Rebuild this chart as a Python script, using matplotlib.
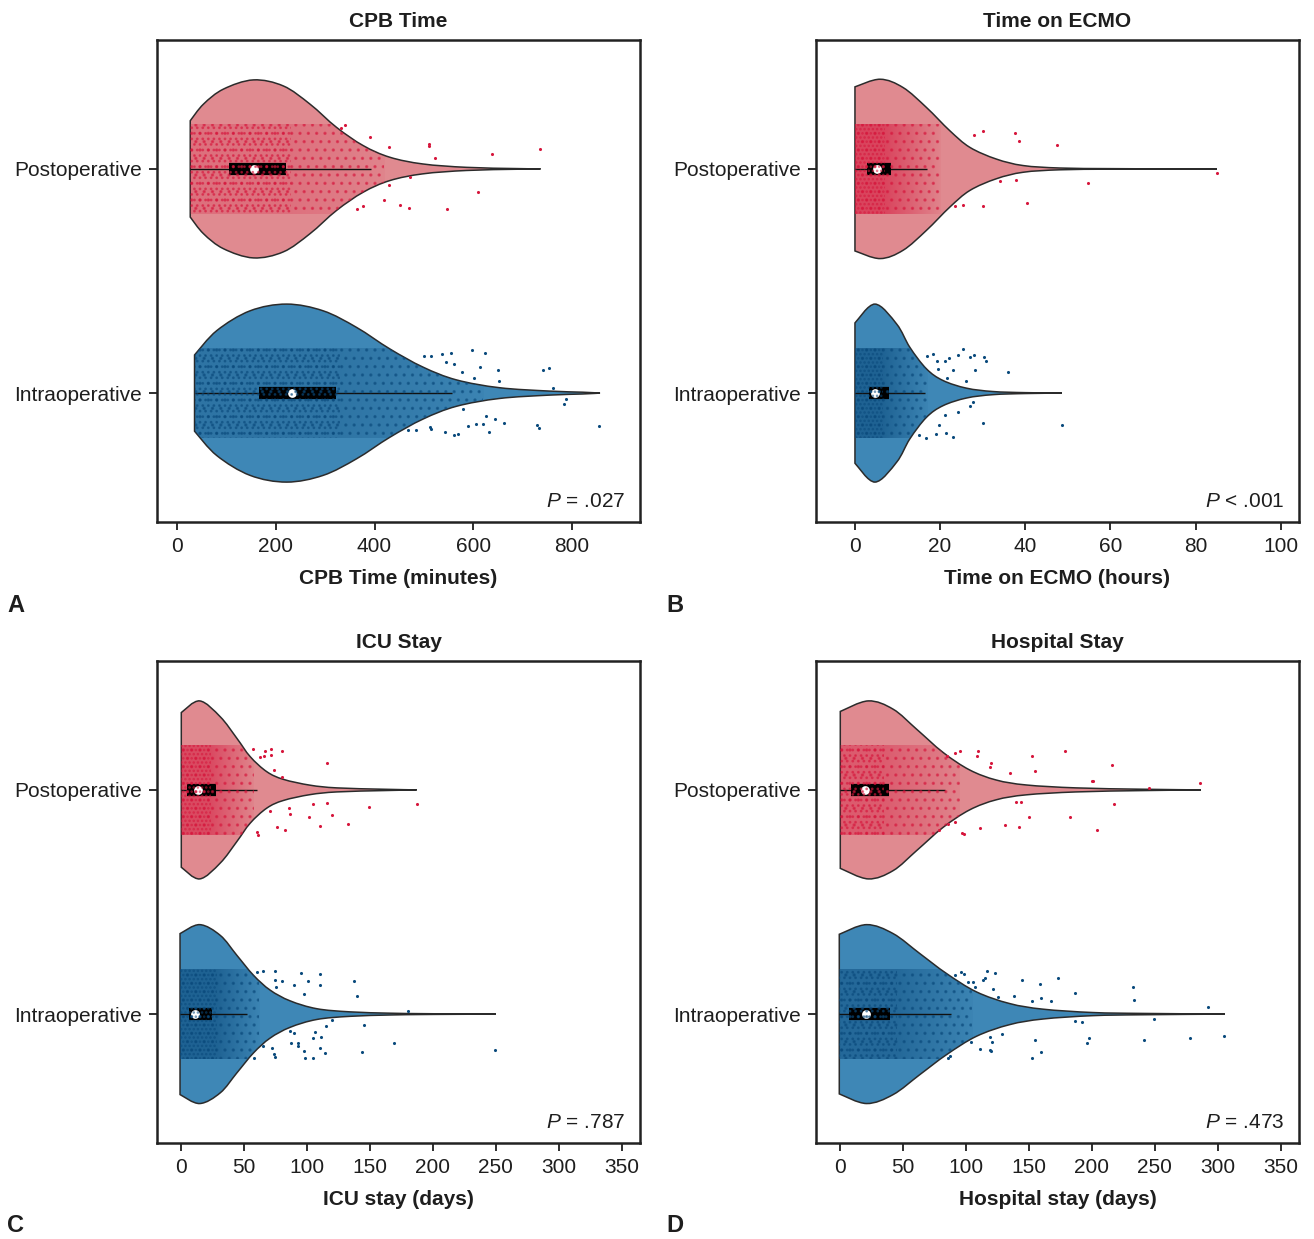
import numpy as np
import matplotlib
matplotlib.use('Agg')
import matplotlib.pyplot as plt
from matplotlib.path import Path
from matplotlib.patches import PathPatch, Rectangle
from matplotlib.colors import to_rgb

plt.rcParams['font.family'] = ['Liberation Sans', 'DejaVu Sans']
plt.rcParams['mathtext.fontset'] = 'custom'
plt.rcParams['mathtext.it'] = 'Liberation Sans:italic'
plt.rcParams['mathtext.rm'] = 'Liberation Sans'
plt.rcParams['hatch.linewidth'] = 1.2

# ---------------- data ----------------
groups = ['Postoperative', 'Intraoperative']
titles = ['CPB Time', 'Time on ECMO', 'ICU Stay', 'Hospital Stay']
xlabels = ['CPB Time (minutes)', 'Time on ECMO (hours)', 'ICU stay (days)', 'Hospital stay (days)']
p_labels = ['= .027', '< .001', '= .787', '= .473']
panel_letters = ['A', 'B', 'C', 'D']
xticks_cpb = [0, 200, 400, 600, 800]
xticks_ecmo = [0, 20, 40, 60, 80, 100]
xticks_days = [0, 50, 100, 150, 200, 250, 300, 350]

# violin outlines: value grid and half-width (density profile)
cpb_post_v = [26.9, 53.7, 94.1, 154.7, 215.4, 269.3, 323.2, 377, 431, 498, 586, 687, 736]
cpb_post_w = [0.215, 0.289, 0.356, 0.397, 0.370, 0.289, 0.185, 0.104, 0.052, 0.022, 0.007, 0.0015, 0]
cpb_intra_v = [35.6, 80.8, 148, 222, 296, 363.6, 431, 498, 565.6, 653, 754, 821, 856.5]
cpb_intra_w = [0.170, 0.279, 0.367, 0.397, 0.367, 0.293, 0.197, 0.116, 0.059, 0.024, 0.009, 0.004, 0]

ecmo_post_v = [0, 5.9, 11.3, 16.8, 22.3, 27.0, 33.2, 39.5, 48.1, 60, 72, 85]
ecmo_post_w = [0.366, 0.400, 0.363, 0.274, 0.170, 0.096, 0.044, 0.015, 0.004, 0.0012, 0.0004, 0]
ecmo_intra_v = [0, 4.7, 9.8, 12.9, 16.8, 20.7, 26.2, 32.4, 40, 48.6]
ecmo_intra_w = [0.313, 0.397, 0.308, 0.204, 0.108, 0.056, 0.022, 0.007, 0.002, 0]

icu_post_v = [0, 14.6, 31, 44.2, 54.8, 68, 81.2, 102.4, 123.6, 160.6, 187]
icu_post_w = [0.345, 0.397, 0.326, 0.230, 0.148, 0.081, 0.047, 0.021, 0.009, 0.003, 0]
icu_intra_v = [-1, 14.6, 31, 44.2, 57.4, 70.6, 86.5, 107.7, 134, 166, 190, 215, 250]
icu_intra_w = [0.359, 0.399, 0.351, 0.262, 0.173, 0.107, 0.059, 0.024, 0.010, 0.004, 0.002, 0.001, 0]

hosp_post_v = [0, 22.2, 42, 60.6, 81.7, 102.8, 124, 147.8, 187.5, 240.4, 286.6]
hosp_post_w = [0.350, 0.397, 0.360, 0.271, 0.167, 0.089, 0.044, 0.022, 0.009, 0.003, 0]
hosp_intra_v = [-0.8, 20.9, 42, 63.2, 84.4, 108.2, 134.6, 161, 200.6, 240.3, 305.6]
hosp_intra_w = [0.356, 0.399, 0.359, 0.270, 0.181, 0.099, 0.047, 0.022, 0.007, 0.003, 0]

# box statistics: q1, median, q3, upper whisker
cpb_post_box = [105, 156, 221, 393]
cpb_intra_box = [166, 233, 322, 556]
ecmo_post_box = [2.8, 5.1, 8.4, 16.9]
ecmo_intra_box = [3.4, 4.7, 8.1, 16.4]
icu_post_box = [4.5, 13.2, 27.5, 60]
icu_intra_box = [5.8, 10.6, 24.4, 52.6]
hosp_post_box = [8.2, 19.6, 38.6, 83.6]
hosp_intra_box = [7.2, 20.4, 39.4, 87.8]

# extent of the dense jittered point cloud: [dense core end, sparse cloud end]
cpb_post_cloud = [230, 420]
cpb_intra_cloud = [330, 620]
ecmo_post_cloud = [7, 20]
ecmo_intra_cloud = [6.5, 17]
icu_post_cloud = [24, 58]
icu_intra_cloud = [28, 62]
hosp_post_cloud = [35, 95]
hosp_intra_cloud = [45, 105]

# individually visible scattered points: value and jitter offset
cpb_post_out_v = [331.9, 340.7, 390.5, 429.5, 510.3, 510.3, 521.8, 637.6, 735.4, 471.3, 429.5, 418.8, 364.9, 375.7, 452.5, 469.3, 547.5, 608.7]
cpb_post_out_j = [-0.181, -0.196, -0.144, -0.096, -0.111, -0.104, -0.049, -0.067, -0.087, 0.037, 0.071, 0.139, 0.181, 0.167, 0.160, 0.173, 0.179, 0.102]
cpb_intra_out_v = [499.6, 513.7, 536.6, 554.1, 597.2, 622.8, 544.0, 560.2, 577.0, 612.7, 649.8, 601.9, 651.1, 740.6, 752.7, 760.8, 787.9, 783.1, 729.3, 732.5, 855.2, 661.2, 643.0, 626.3, 606.1, 619.5, 589.1, 631.5, 560.2, 568.9, 542.0, 511.7, 515.1, 484.8, 467.9, 579.0]
cpb_intra_out_j = [-0.167, -0.167, -0.175, -0.178, -0.194, -0.178, -0.138, -0.130, -0.093, -0.116, -0.105, -0.068, -0.053, -0.105, -0.111, -0.022, 0.028, 0.050, 0.141, 0.156, 0.148, 0.133, 0.114, 0.104, 0.139, 0.136, 0.147, 0.173, 0.185, 0.184, 0.172, 0.151, 0.159, 0.163, 0.163, 0.070]
ecmo_post_out_v = [27.9, 30.1, 37.7, 38.5, 47.5, 34.0, 37.9, 54.7, 85.0, 23.5, 25.3, 30.1, 40.3]
ecmo_post_out_j = [-0.151, -0.170, -0.159, -0.123, -0.108, 0.055, 0.049, 0.064, 0.018, 0.166, 0.161, 0.166, 0.151]
ecmo_intra_out_v = [17.0, 18.4, 21.1, 22.1, 24.1, 25.4, 27.1, 28.0, 30.4, 30.7, 36.0, 26.2, 28.2, 23.1, 21.7, 19.4, 19.2, 27.7, 27.0, 24.2, 21.1, 19.8, 21.5, 23.1, 19.0, 16.7, 15.1, 30.1, 48.6]
ecmo_intra_out_j = [-0.167, -0.175, -0.145, -0.157, -0.172, -0.197, -0.160, -0.172, -0.160, -0.141, -0.096, -0.056, -0.101, -0.101, -0.068, -0.108, -0.145, 0.040, 0.059, 0.084, 0.099, 0.144, 0.178, 0.196, 0.184, 0.200, 0.188, 0.133, 0.141]
icu_post_out_v = [56.9, 66.7, 71.2, 80.4, 62.7, 66.1, 71.2, 73.3, 115.6, 79.9, 85.2, 86.5, 104.5, 115.6, 119.6, 101.6, 110.3, 132.8, 149.5, 187.0, 75.9, 82.5, 60.1, 61.3, 70.1]
icu_post_out_j = [-0.182, -0.175, -0.182, -0.175, -0.148, -0.151, -0.156, -0.089, -0.121, -0.056, 0.079, 0.107, 0.061, 0.059, 0.111, 0.119, 0.163, 0.150, 0.076, 0.061, 0.166, 0.178, 0.188, 0.199, 0.093]
icu_intra_out_v = [60.1, 65.3, 74.1, 95.2, 110.3, 74.1, 80.4, 89.2, 100.3, 110.3, 137.6, 75.4, 97.6, 139.4, 179.9, 145.5, 114.8, 119.6, 106.3, 105.0, 111.1, 86.5, 89.9, 87.3, 93.1, 92.6, 110.3, 114.3, 97.6, 98.4, 105.0, 73.3, 74.1, 71.9, 65.3, 169.3, 143.4, 249.2, 57.4]
icu_intra_out_j = [-0.188, -0.191, -0.191, -0.185, -0.178, -0.151, -0.147, -0.129, -0.147, -0.129, -0.147, -0.119, -0.089, -0.080, -0.015, 0.049, 0.055, 0.027, 0.081, 0.105, 0.104, 0.074, 0.086, 0.127, 0.130, 0.142, 0.153, 0.175, 0.163, 0.194, 0.197, 0.178, 0.190, 0.153, 0.142, 0.127, 0.170, 0.160, 0.194]
hosp_post_out_v = [84.4, 91.5, 94.9, 109.4, 108.6, 119.5, 118.7, 134.6, 152.6, 154.9, 178.7, 200.1, 201.2, 215.7, 245.0, 286.0, 139.9, 143.3, 149.9, 182.7, 217.8, 203.8, 141.7, 130.6, 110.8, 97.1, 98.1, 91.5, 85.6, 78.5]
hosp_post_out_j = [-0.153, -0.163, -0.175, -0.175, -0.153, -0.120, -0.101, -0.074, -0.151, -0.083, -0.172, -0.039, -0.041, -0.113, -0.010, -0.033, 0.055, 0.053, 0.119, 0.119, 0.062, 0.181, 0.166, 0.157, 0.170, 0.191, 0.196, 0.144, 0.151, 0.181]
hosp_intra_out_v = [91.5, 96.3, 98.1, 101.5, 105.5, 107.4, 113.4, 114.8, 116.9, 122.7, 121.3, 125.3, 137.7, 144.6, 152.6, 158.4, 159.7, 167.6, 172.9, 186.7, 232.9, 233.7, 291.8, 186.9, 191.9, 249.0, 128.8, 118.7, 120.9, 103.6, 110.8, 118.7, 120.1, 154.9, 152.6, 159.7, 196.2, 198.0, 241.1, 278.1, 305.1, 85.6, 87.0]
hosp_intra_out_j = [-0.173, -0.188, -0.181, -0.144, -0.144, -0.121, -0.151, -0.159, -0.193, -0.185, -0.110, -0.077, -0.080, -0.154, -0.059, -0.136, -0.070, -0.059, -0.159, -0.092, -0.121, -0.065, -0.030, 0.031, 0.036, 0.024, 0.090, 0.104, 0.123, 0.123, 0.157, 0.160, 0.164, 0.116, 0.194, 0.170, 0.130, 0.108, 0.116, 0.108, 0.098, 0.194, 0.187]

# ---------------- styles ----------------
fill_cols = ['#E08A90', '#3E87B6']
dot_cols = ['#D6163C', '#0A4A7C']
edge_col = '#2b2b2b'
text_col = '#1e1e1e'

panels = [
    dict(v=[cpb_post_v, cpb_intra_v], w=[cpb_post_w, cpb_intra_w], box=[cpb_post_box, cpb_intra_box],
         cloud=[cpb_post_cloud, cpb_intra_cloud], ov=[cpb_post_out_v, cpb_intra_out_v],
         oj=[cpb_post_out_j, cpb_intra_out_j], xticks=xticks_cpb, xlim=(-40.4, 937.4),
         core_alpha=[0.22, 0.30], core_hatch='...'),
    dict(v=[ecmo_post_v, ecmo_intra_v], w=[ecmo_post_w, ecmo_intra_w], box=[ecmo_post_box, ecmo_intra_box],
         cloud=[ecmo_post_cloud, ecmo_intra_cloud], ov=[ecmo_post_out_v, ecmo_intra_out_v],
         oj=[ecmo_post_out_j, ecmo_intra_out_j], xticks=xticks_ecmo, xlim=(-9.15, 104.3),
         core_alpha=[0.6, 0.6], core_hatch='....'),
    dict(v=[icu_post_v, icu_intra_v], w=[icu_post_w, icu_intra_w], box=[icu_post_box, icu_intra_box],
         cloud=[icu_post_cloud, icu_intra_cloud], ov=[icu_post_out_v, icu_intra_out_v],
         oj=[icu_post_out_j, icu_intra_out_j], xticks=xticks_days, xlim=(-19.3, 364.5),
         core_alpha=[0.55, 0.6], core_hatch='....'),
    dict(v=[hosp_post_v, hosp_intra_v], w=[hosp_post_w, hosp_intra_w], box=[hosp_post_box, hosp_intra_box],
         cloud=[hosp_post_cloud, hosp_intra_cloud], ov=[hosp_post_out_v, hosp_intra_out_v],
         oj=[hosp_post_out_j, hosp_intra_out_j], xticks=xticks_days, xlim=(-19.3, 364.5),
         core_alpha=[0.4, 0.5], core_hatch='...'),
]

W, H = 1314, 1239
axes_px = [(157, 40), (816, 40), (157, 661), (816, 661)]
ax_w, ax_h = 483, 482
letter_px = [(7, 612), (666, 612), (7, 1232), (666, 1232)]


def violin_path(v, w, c):
    P = np.column_stack([np.asarray(v, float), np.asarray(w, float)])
    n = len(P)
    segs = []
    for i in range(n - 1):
        pm = P[i - 1] if i > 0 else P[i]
        pp = P[i + 2] if i + 2 < n else P[i + 1]
        c1 = P[i] + (P[i + 1] - pm) / 6.0
        c2 = P[i + 1] - (pp - P[i]) / 6.0
        c1[1] = min(max(c1[1], 0), 0.405)
        c2[1] = min(max(c2[1], 0), 0.405)
        segs.append((c1, c2, P[i + 1]))
    verts = [(P[0, 0], c + P[0, 1]), (P[0, 0], c - P[0, 1])]
    codes = [Path.MOVETO, Path.LINETO]
    for c1, c2, p in segs:
        verts += [(c1[0], c - c1[1]), (c2[0], c - c2[1]), (p[0], c - p[1])]
        codes += [Path.CURVE4] * 3
    prev = [P[0]] + [s[2] for s in segs]
    for k in range(len(segs) - 1, -1, -1):
        c1, c2, p = segs[k]
        start = prev[k]
        verts += [(c2[0], c + c2[1]), (c1[0], c + c1[1]), (start[0], c + start[1])]
        codes += [Path.CURVE4] * 3
    verts.append((P[0, 0], c + P[0, 1]))
    codes.append(Path.CLOSEPOLY)
    return Path(verts, codes)


def density_ramp(color, lo, core_hi, cloud_hi, a_core, a_tail, n=200):
    """RGBA strip: full shade up to core_hi, fading to a_tail at cloud_hi (drawing style only)."""
    xs = np.linspace(lo, cloud_hi, n)
    t = np.clip((xs - core_hi) / max(cloud_hi - core_hi, 1e-9), 0, 1)
    alpha = a_core * (1 - t) + a_tail * t
    rgba = np.zeros((1, n, 4))
    rgba[..., :3] = to_rgb(color)
    rgba[0, :, 3] = alpha
    return rgba


fig = plt.figure(figsize=(W / 100, H / 100), dpi=100)

for k, pdata in enumerate(panels):
    x0, y0 = axes_px[k]
    ax = fig.add_axes([x0 / W, 1 - (y0 + ax_h) / H, ax_w / W, ax_h / H])
    for g in range(2):
        c = g
        v = pdata['v'][g]
        w = pdata['w'][g]
        path = violin_path(v, w, c)
        vp = PathPatch(path, facecolor=fill_cols[g], edgecolor=edge_col, lw=1.1, zorder=1)
        ax.add_patch(vp)
        core_hi, cloud_hi = pdata['cloud'][g]
        # shaded density of jittered points
        img = density_ramp(dot_cols[g], v[0], core_hi, cloud_hi, pdata['core_alpha'][g], 0.05)
        im = ax.imshow(img, extent=(v[0], cloud_hi, c + 0.2, c - 0.2), aspect='auto',
                       interpolation='bilinear', zorder=2)
        im.set_clip_path(vp)
        q1, med, q3, wh = pdata['box'][g]
        ax.plot([v[0], wh], [c, c], color='#111111', lw=1.0, zorder=3, solid_capstyle='butt')
        ax.plot([q1, q3], [c, c], color='black', lw=8.8, zorder=4, solid_capstyle='butt')
        ax.plot([med], [c], 'o', color='white', ms=6.3, mew=0, zorder=5)
        # dot texture of the jittered points (drawn over the box, as in the original)
        r2 = Rectangle((v[0], c - 0.2), cloud_hi - v[0], 0.4, facecolor='none', hatch='..',
                       edgecolor=dot_cols[g], lw=0, zorder=5.5, alpha=0.55)
        r2.set_clip_path(vp)
        ax.add_patch(r2)
        r4 = Rectangle((v[0], c - 0.2), core_hi - v[0], 0.4, facecolor='none', hatch=pdata['core_hatch'],
                       edgecolor=dot_cols[g], lw=0, zorder=5.6, alpha=0.6)
        r4.set_clip_path(vp)
        ax.add_patch(r4)
        ov = np.asarray(pdata['ov'][g])
        oj = np.asarray(pdata['oj'][g])
        ax.scatter(ov, c + oj, s=5, color=dot_cols[g], linewidths=0, zorder=6)

    ax.set_xlim(*pdata['xlim'])
    ax.set_ylim(1.575, -0.575)
    ax.set_xticks(pdata['xticks'])
    ax.set_yticks([0, 1])
    ax.set_yticklabels(groups)
    ax.tick_params(axis='both', direction='out', length=6, width=1.3, labelsize=15,
                   colors=text_col, pad=5)
    for sp in ax.spines.values():
        sp.set_linewidth(1.8)
        sp.set_color('#222222')
    ax.set_title(titles[k], fontsize=15, fontweight='bold', color=text_col, pad=9)
    ax.set_xlabel(xlabels[k], fontsize=15, fontweight='bold', color=text_col, labelpad=9)
    ax.text(0.969, 0.032, r'$P$ ' + p_labels[k], transform=ax.transAxes, ha='right', va='baseline',
            fontsize=15, color=text_col)
    lx, ly = letter_px[k]
    fig.text(lx / W, 1 - ly / H, panel_letters[k], fontsize=17, fontweight='bold', color=text_col,
             ha='left', va='baseline')

fig.savefig('out.png', dpi=100)
